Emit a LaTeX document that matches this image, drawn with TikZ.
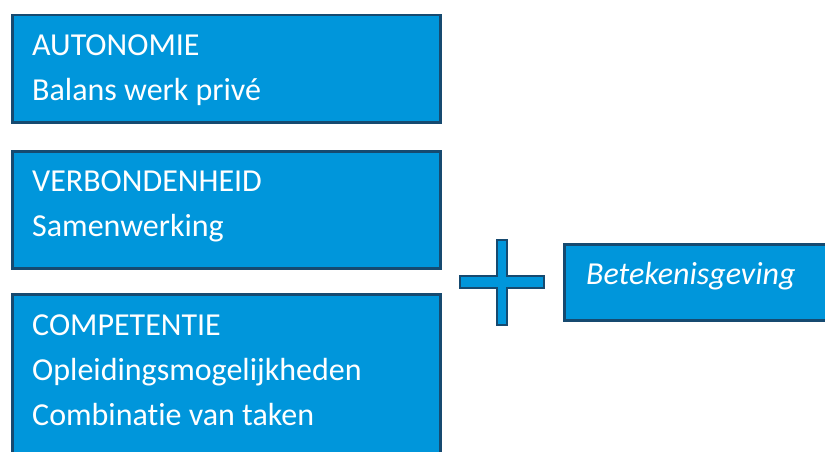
\documentclass[tikz,border=0pt]{standalone}
\usepackage{fontspec}
\setmainfont{Carlito}[Ligatures=NoCommon]
\usepackage{tikz}
\definecolor{boxblue}{HTML}{0096DB}
\definecolor{boxedge}{HTML}{164A70}

\begin{document}
\begin{tikzpicture}[x=1pt, y=-1pt,
    box/.style={rectangle, draw=boxedge, fill=boxblue, line width=2.5pt, inner sep=0pt, anchor=north west},
    txt/.style={text=white, inner sep=0pt, anchor=north west, align=left, font=\fontsize{32}{45}\selectfont}]
            \useasboundingbox (0, 0) rectangle (825, 452);
            \clip (0, 0) rectangle (825, 452);

            % Boxes
            \node[box, minimum width=428pt, minimum height=107pt] (aut) at (11, 14) {};
            \node[box, minimum width=428pt, minimum height=117pt] (verb) at (11, 150) {};
            \node[box, minimum width=428pt, minimum height=200pt] (comp) at (11, 293) {};
            \node[box, minimum width=290pt, minimum height=76pt] (bet) at (563, 243) {};

            % Texts
            \node[txt] (autt) at (32, 34.5) {AUTONOMIE\\Balans werk privé};
            \node[txt] (verbt) at (32, 170.5) {VERBONDENHEID\\Samenwerking};
            \node[txt] (compt) at (32, 314.5) {COMPETENTIE\\Opleidingsmogelijkheden\\Combinatie van taken};
            \node[txt, anchor=base west, font=\fontsize{32}{38}\itshape] (bett) at (586, 284) {Betekenisgeving};

            % Plus
            \draw[draw=boxedge, fill=boxblue, line width=2.5pt]
                (497, 240) -- (507, 240) -- (507, 276) -- (544, 276) -- (544, 288) -- (507, 288)
                -- (507, 325) -- (497, 325) -- (497, 288) -- (460, 288) -- (460, 276) -- (497, 276) -- cycle;
        \end{tikzpicture}
\end{document}
